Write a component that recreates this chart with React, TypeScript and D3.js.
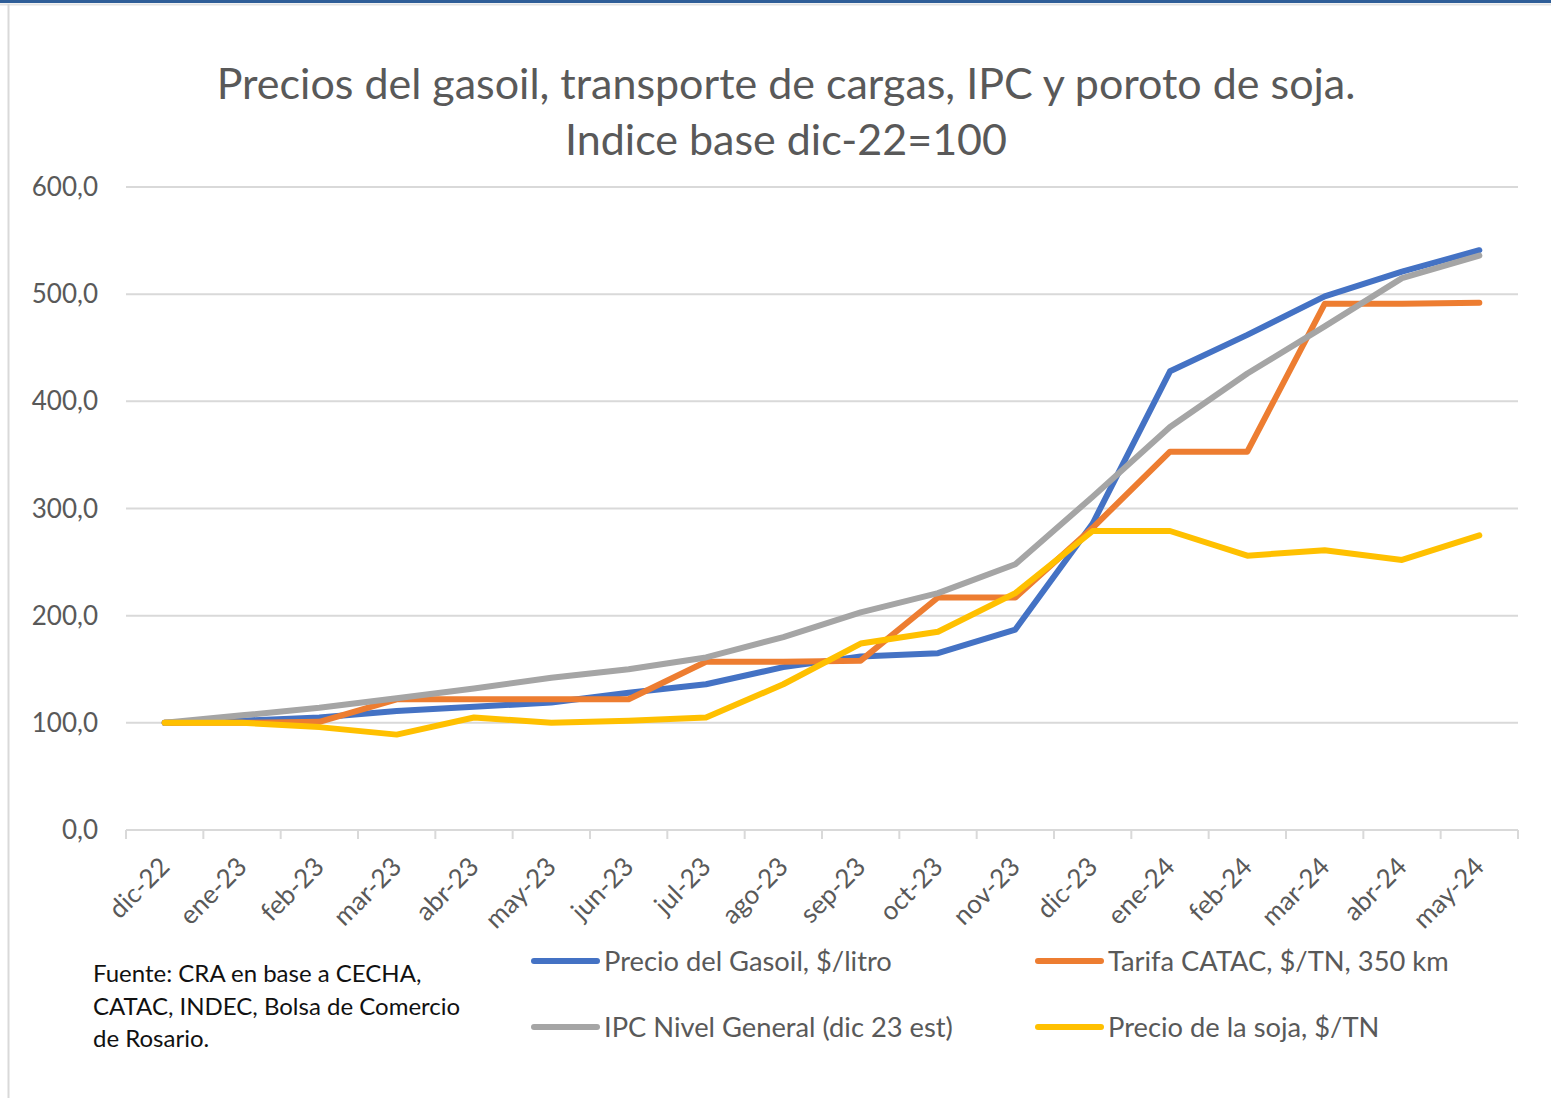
import React, { useEffect, useRef } from "react";
import * as d3 from "d3";

const months = [
  "dic-22", "ene-23", "feb-23", "mar-23", "abr-23", "may-23", "jun-23", "jul-23", "ago-23",
  "sep-23", "oct-23", "nov-23", "dic-23", "ene-24", "feb-24", "mar-24", "abr-24", "may-24",
];

const gasoil = [100, 102, 105, 111, 115, 119, 128, 136, 152, 162, 165, 187, 286, 428, 462, 498, 521, 541];
const tarifa = [100, 100, 101, 122, 122, 122, 122, 157, 157, 158, 217, 217, 282, 353, 353, 491, 491, 492];
const ipc = [100, 107, 114, 123, 132, 142, 150, 161, 180, 203, 221, 248, 311, 376, 426, 470, 515, 536];
const soja = [100, 100, 96, 89, 105, 100, 102, 105, 136, 174, 185, 221, 279, 279, 256, 261, 252, 275];

const yTicks = [0, 100, 200, 300, 400, 500, 600];

const seriesNames = [
  "Precio del Gasoil, $/litro",
  "Tarifa CATAC, $/TN, 350 km",
  "IPC Nivel General (dic 23 est)",
  "Precio de la soja, $/TN",
];
const seriesColors = ["#4472C4", "#ED7D31", "#A5A5A5", "#FFC000"];

const titleLines = [
  "Precios del gasoil, transporte de cargas, IPC y poroto de soja.",
  "Indice base dic-22=100",
];
const sourceLines = [
  "Fuente: CRA en base a CECHA,",
  "CATAC, INDEC, Bolsa de Comercio",
  "de Rosario.",
];

const FONT = "Lato, 'Open Sans', sans-serif";

const Chart: React.FC = () => {
  const chartRef = useRef<SVGSVGElement | null>(null);

  useEffect(() => {
    const width = 1551;
    const height = 1098;
    const margin = { top: 187, right: 33, bottom: 268, left: 126 };
    const chartWidth = width - margin.left - margin.right;
    const chartHeight = height - margin.top - margin.bottom;

    const root = d3.select(chartRef.current);
    root.selectAll("*").remove();
    root.attr("width", width).attr("height", height);

    // frame
    root.append("rect").attr("width", width).attr("height", height).attr("fill", "white");
    root.append("rect").attr("x", 0).attr("y", 0).attr("width", width).attr("height", 3).attr("fill", "#2F5E98");
    root.append("line").attr("x1", 0).attr("x2", width).attr("y1", 4.5).attr("y2", 4.5)
      .attr("stroke", "#E3E3E3").attr("stroke-width", 2);
    root.append("line").attr("x1", 8.5).attr("x2", 8.5).attr("y1", 4).attr("y2", height)
      .attr("stroke", "#D9D9D9").attr("stroke-width", 2);

    // title
    const title = root.append("text")
      .attr("text-anchor", "middle")
      .style("font-family", FONT)
      .style("font-size", "43px")
      .attr("fill", "#595959");
    titleLines.forEach((t, i) => {
      title.append("tspan").attr("x", 786).attr("y", 99 + i * 56).text(t);
    });

    const svg = root.append("g").attr("transform", `translate(${margin.left},${margin.top})`);

    const x = d3.scaleBand<string>().domain(months).range([0, chartWidth]);
    const y = d3.scaleLinear().domain([0, 600]).range([chartHeight, 0]);
    const fmt = (v: number) => d3.format(".1f")(v).replace(".", ",");

    // gridlines
    svg.append("g")
      .selectAll("line")
      .data(yTicks.filter((d) => d > 0))
      .enter()
      .append("line")
      .attr("x1", 0)
      .attr("x2", chartWidth)
      .attr("y1", (d) => y(d))
      .attr("y2", (d) => y(d))
      .attr("stroke", "#D9D9D9")
      .attr("stroke-width", 2);

    // y axis labels
    svg.append("g")
      .selectAll("text")
      .data(yTicks)
      .enter()
      .append("text")
      .attr("x", -28)
      .attr("y", (d) => y(d))
      .attr("dy", "0.35em")
      .attr("text-anchor", "end")
      .style("font-family", FONT)
      .style("font-size", "26px")
      .attr("fill", "#595959")
      .text((d) => fmt(d));

    // x axis
    const xAxis = svg.append("g").attr("transform", `translate(0,${chartHeight})`);
    xAxis.append("line").attr("x1", 0).attr("x2", chartWidth).attr("stroke", "#D9D9D9").attr("stroke-width", 2);
    const bounds = months.map((m) => x(m) as number).concat([chartWidth]);
    xAxis.selectAll("line.tick")
      .data(bounds)
      .enter()
      .append("line")
      .attr("class", "tick")
      .attr("x1", (d) => d)
      .attr("x2", (d) => d)
      .attr("y1", 0)
      .attr("y2", 9)
      .attr("stroke", "#D9D9D9")
      .attr("stroke-width", 2);
    xAxis.selectAll("text")
      .data(months)
      .enter()
      .append("text")
      .attr("text-anchor", "end")
      .attr("transform", (d) => `translate(${(x(d) as number) + x.bandwidth() / 2},${32}) rotate(-45)`)
      .attr("dy", "0.35em")
      .style("font-family", FONT)
      .style("font-size", "26px")
      .attr("fill", "#595959")
      .text((d) => d);

    // lines
    const allSeries = [gasoil, tarifa, ipc, soja];
    const line = d3
      .line<number>()
      .x((_d, i) => (x(months[i]) as number) + x.bandwidth() / 2)
      .y((d) => y(d));

    allSeries.forEach((s, i) => {
      svg.append("path")
        .datum(s)
        .attr("fill", "none")
        .attr("stroke", seriesColors[i])
        .attr("stroke-width", 6)
        .attr("stroke-linecap", "round")
        .attr("stroke-linejoin", "round")
        .attr("d", line);
    });

    // legend
    const legendPos = [
      { x: 531, y: 961 },
      { x: 1035, y: 961 },
      { x: 531, y: 1027 },
      { x: 1035, y: 1027 },
    ];
    seriesNames.forEach((name, i) => {
      const g = root.append("g").attr("transform", `translate(${legendPos[i].x},${legendPos[i].y})`);
      g.append("line")
        .attr("x1", 3).attr("x2", 66)
        .attr("stroke", seriesColors[i])
        .attr("stroke-width", 6)
        .attr("stroke-linecap", "round");
      g.append("text")
        .attr("x", 73)
        .attr("dy", "0.35em")
        .style("font-family", FONT)
        .style("font-size", "27.3px")
        .attr("fill", "#595959")
        .text(name);
    });

    // source note
    const src = root.append("text")
      .style("font-family", FONT)
      .style("font-size", "24px")
      .attr("fill", "#111");
    sourceLines.forEach((t, i) => {
      src.append("tspan").attr("x", 93).attr("y", 982 + i * 32.5).text(t);
    });
  }, []);

  return (
    <div style={{ position: "absolute", left: 0, top: 0, width: 1551, height: 1098 }}>
      <svg ref={chartRef} style={{ display: "block" }} />
    </div>
  );
};

export default function App() {
  return <Chart />;
}
